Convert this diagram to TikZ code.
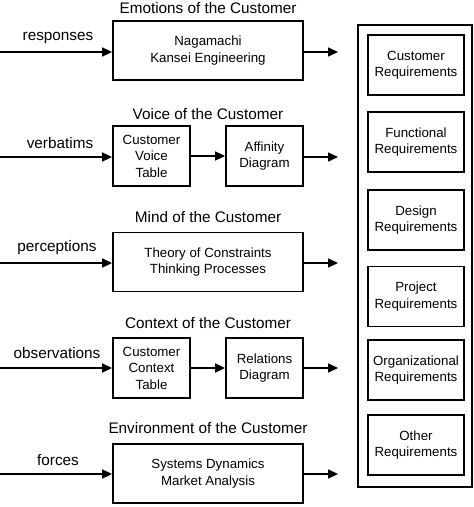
\documentclass[tikz,border=0pt]{standalone}
\usepackage{fontspec}
\setmainfont{Liberation Sans}
\usetikzlibrary{arrows.meta}
\begin{document}
\begin{tikzpicture}[x=1pt,y=-1pt,
  box/.style={draw,line width=1.8pt,align=center,inner sep=0pt,
    font=\fontsize{13.3}{16.5}\selectfont},
  widebox/.style={box,minimum width=190pt,minimum height=59pt},
  smallbox/.style={box,minimum width=77pt,minimum height=60pt},
  reqbox/.style={box,minimum width=96pt,minimum height=60pt},
  title/.style={font=\fontsize{15.3}{18}\selectfont,inner sep=0pt},
  lbl/.style={font=\fontsize{15.3}{18}\selectfont,inner sep=0pt},
  arr/.style={line width=1.6pt,-{Triangle[length=10pt,width=9pt]}}]
\useasboundingbox (0,0) rectangle (474,507);

% titles
\node[title] (t1) at (208,8) {Emotions of the Customer};
\node[title] (t2) at (208,114) {Voice of the Customer};
\node[title] (t3) at (208,217) {Mind of the Customer};
\node[title] (t4) at (208,323) {Context of the Customer};
\node[title] (t5) at (208,428) {Environment of the Customer};

% boxes
\node[widebox] (b1) at (208,50.5) {Nagamachi\\Kansei Engineering};
\node[smallbox] (b2a) at (151.5,156) {Customer\\Voice\\Table};
\node[smallbox] (b2b) at (264.5,156) {Affinity\\Diagram};
\node[widebox] (b3) at (208,262) {Theory of Constraints\\Thinking Processes};
\node[smallbox] (b4a) at (151.5,368) {Customer\\Context\\Table};
\node[smallbox] (b4b) at (264.5,368) {Relations\\Diagram};
\node[widebox] (b5) at (208,473.5) {Systems Dynamics\\Market Analysis};

% input labels
\node[lbl] (l1) at (58,38) {responses};
\node[lbl] (l2) at (60,143) {verbatims};
\node[lbl] (l3) at (57,248) {perceptions};
\node[lbl] (l4) at (57,353) {observations};
\node[lbl] (l5) at (58,460) {forces};

% input and output coordinates
\coordinate (i1) at (0,52);
\coordinate (i2) at (0,157);
\coordinate (i3) at (0,263);
\coordinate (i4) at (0,368);
\coordinate (i5) at (0,474);
\coordinate (o1) at (338,52);
\coordinate (o2) at (338,157);
\coordinate (o3) at (338,263);
\coordinate (o4) at (338,368);
\coordinate (o5) at (338,474);

\draw[arr] (i1) -- (i1 -| b1.west);
\draw[arr] (i2) -- (i2 -| b2a.west);
\draw[arr] (i3) -- (i3 -| b3.west);
\draw[arr] (i4) -- (i4 -| b4a.west);
\draw[arr] (i5) -- (i5 -| b5.west);

\draw[arr] (o1 -| b1.east) -- (o1);
\draw[arr] (o2 -| b2b.east) -- (o2);
\draw[arr] (o3 -| b3.east) -- (o3);
\draw[arr] (o4 -| b4b.east) -- (o4);
\draw[arr] (o5 -| b5.east) -- (o5);

\draw[arr] (b2a.east) -- (b2b.west);
\draw[arr] (b4a.east) -- (b4b.west);

% requirements column
\node[draw,line width=1.8pt,minimum width=114pt,minimum height=462pt,inner sep=0pt] (req) at (415,256) {};
\node[reqbox] (r1) at (416,65) {Customer\\Requirements};
\node[reqbox] (r2) at (416,142) {Functional\\Requirements};
\node[reqbox] (r3) at (416,220) {Design\\Requirements};
\node[reqbox] (r4) at (416,296.5) {Project\\Requirements};
\node[reqbox] (r5) at (416,370) {Organizational\\Requirements};
\node[reqbox] (r6) at (416,445) {Other\\Requirements};
\end{tikzpicture}
\end{document}
